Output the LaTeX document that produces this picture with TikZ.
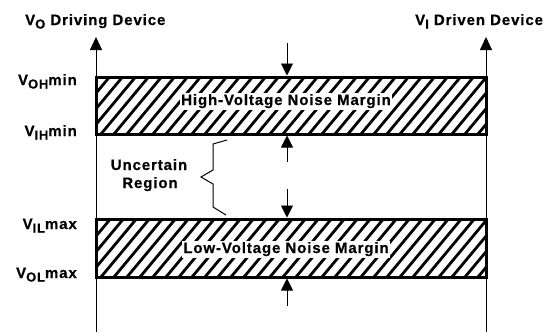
\documentclass[tikz,border=0pt]{standalone}
\usepackage{fontspec}
\setmainfont{Liberation Sans}[LetterSpace=6, BoldFeatures={FakeBold=0.6}]
\usetikzlibrary{arrows.meta}
\newcommand\lowsub[1]{\raisebox{-3.5pt}{\fontsize{13}{14}\selectfont #1}}
\begin{document}
\begin{tikzpicture}[x=1pt,y=-1pt,
  lbl/.style={font=\fontsize{15}{16}\selectfont\bfseries, inner sep=0pt},
  bandline/.style={draw, line width=3pt},
  hatch/.style={line width=2.8pt},
  axis/.style={line width=0.9pt, -{Triangle[width=12pt,length=13pt]}},
  marg/.style={line width=0.9pt, -{Triangle[width=12pt,length=12pt]}},
  bandtxt/.style={lbl, fill=white, inner sep=1.5pt}]
\useasboundingbox (0,0) rectangle (551,332);
% axes
\coordinate (L0) at (96,332); \coordinate (L1) at (96,37);
\coordinate (R0) at (486,332); \coordinate (R1) at (486,37);
\draw[axis] (L0) -- (L1);
\draw[axis] (R0) -- (R1);
% bands
\coordinate (hA) at (96,77); \coordinate (hB) at (486,134);
\coordinate (lA) at (96,219); \coordinate (lB) at (486,277);
\begin{scope}
\clip (hA) rectangle (hB);
\foreach \i in {-6,...,32} \draw[hatch] ({96+13*\i},140) -- ++(55,-66);
\end{scope}
\begin{scope}
\clip (lA) rectangle (lB);
\foreach \i in {-6,...,32} \draw[hatch] ({96+13*\i},283) -- ++(55,-66);
\end{scope}
\draw[bandline] (hA) rectangle (hB);
\draw[bandline] (lA) rectangle (lB);
\node[bandtxt, anchor=base] (hv) at (286,105) {High-Voltage Noise Margin};
\node[bandtxt, anchor=base] (lv) at (286,253) {Low-Voltage Noise Margin};
% margin arrows
\coordinate (m1) at (287,43); \coordinate (m1t) at (287,75.5);
\coordinate (m2) at (287,162); \coordinate (m2t) at (287,135.5);
\coordinate (m3) at (287,189); \coordinate (m3t) at (287,217.5);
\coordinate (m4) at (287,306); \coordinate (m4t) at (287,278.5);
\draw[marg] (m1) -- (m1t);
\draw[marg] (m2) -- (m2t);
\draw[marg] (m3) -- (m3t);
\draw[marg] (m4) -- (m4t);
% titles
\node[lbl, anchor=base west] (tl) at (25,25) {V\lowsub{O} Driving Device};
\node[lbl, anchor=base west] (tr) at (415,25) {V\lowsub{I} Driven Device};
% level labels
\node[lbl, anchor=base east] (voh) at (77,85) {V\lowsub{OH}min};
\node[lbl, anchor=base east] (vih) at (77,136) {V\lowsub{IH}min};
\node[lbl, anchor=base east] (vil) at (77,229) {V\lowsub{IL}max};
\node[lbl, anchor=base east] (vol) at (77,278) {V\lowsub{OL}max};
% uncertain region
\node[lbl, anchor=base] (unc) at (149,170) {Uncertain};
\node[lbl, anchor=base] (reg) at (150,188) {Region};
\draw[line width=1pt] (227,140) -- (213,144) -- (213,170) -- (201,177) -- (213,184) -- (213,207) -- (226,215);
\end{tikzpicture}
\end{document}
